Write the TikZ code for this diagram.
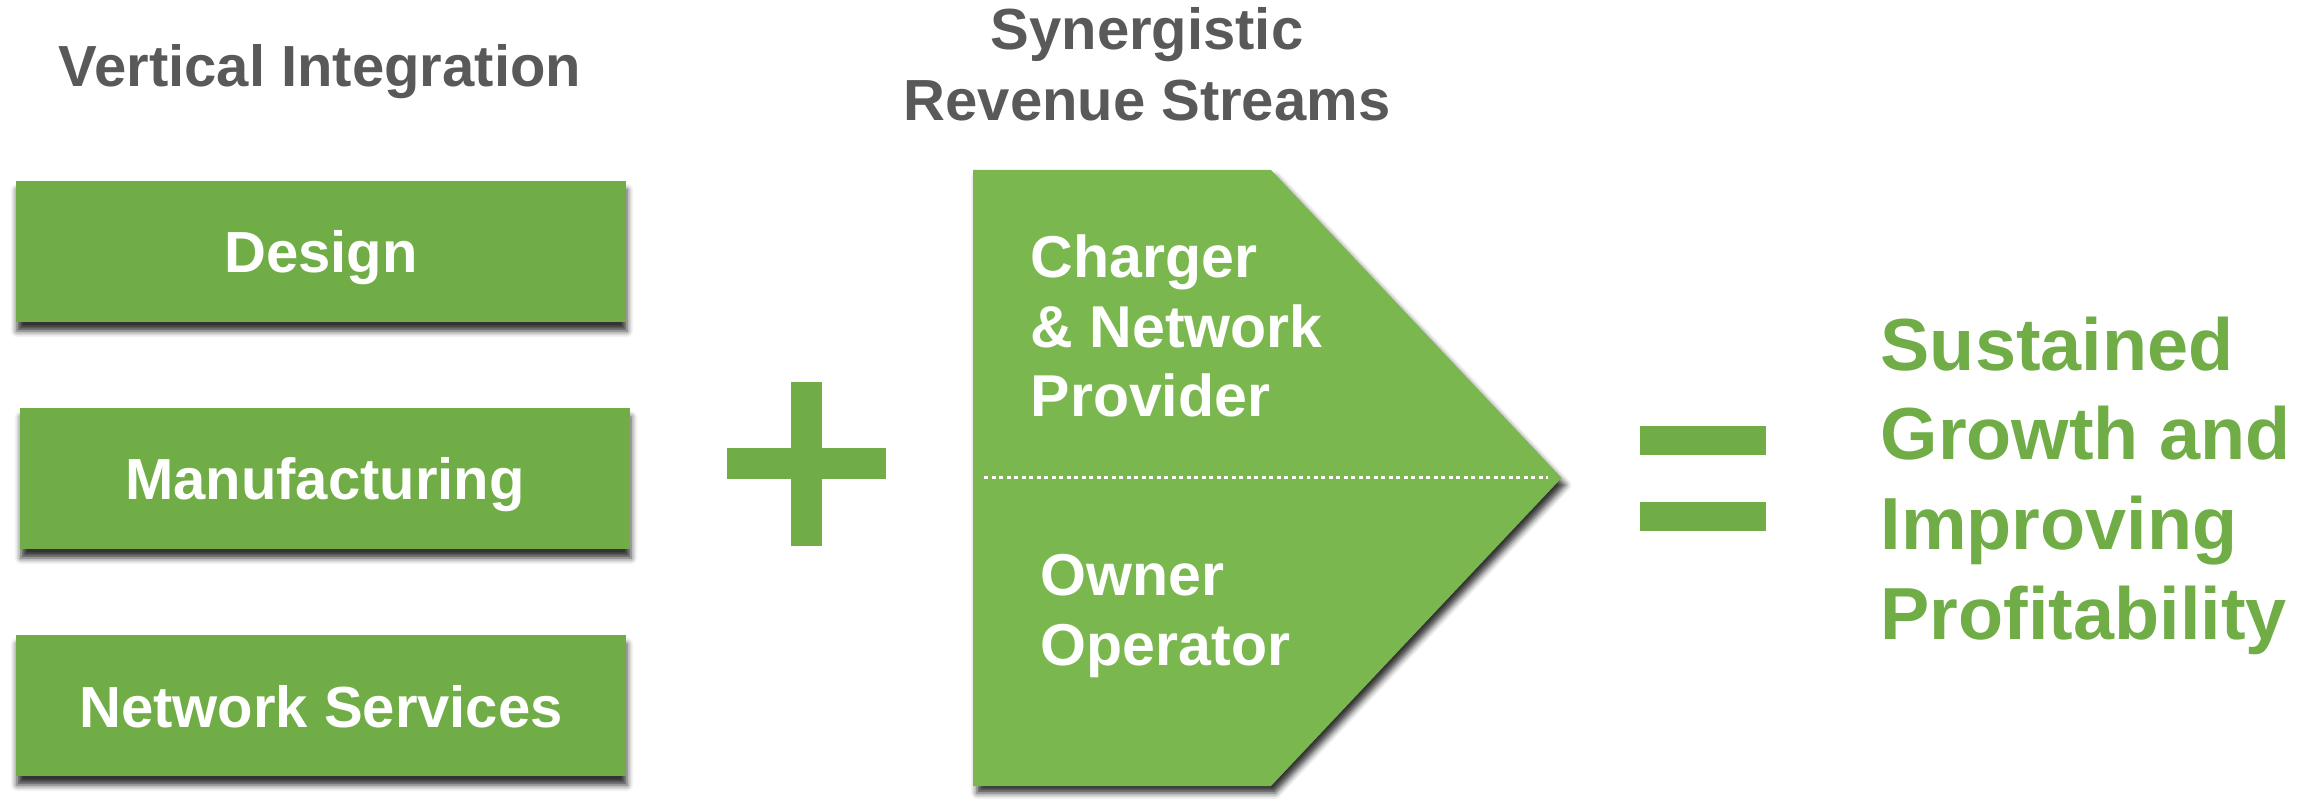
\documentclass[tikz,border=0pt]{standalone}
\usepackage{fontspec}
\setmainfont{Liberation Sans}
\usepackage{xcolor}
\usepackage{tikz}
\usetikzlibrary{shadows.blur}
\definecolor{boxgreen}{HTML}{70AD47}
\definecolor{arrowgreen}{HTML}{7AB84F}
\definecolor{titlegray}{HTML}{595959}
\tikzset{
greenboxv1/.style={rectangle, draw=none, fill=boxgreen, inner sep=0pt, minimum width= 6.1cm, minimum height = 1.41cm, text height=0.43cm, text depth=0pt, text=white, font=\bfseries\fontsize{16.5}{20}\selectfont, blur shadow={shadow xshift=0.01cm, shadow yshift=-0.09cm, shadow blur radius=0.06cm, shadow opacity=80}},
titletextv1/.style={align=center, inner sep=0pt, text=titlegray, font=\bfseries\fontsize{16.5}{20.2}\selectfont},
arrowtextv1/.style={align=left, inner sep=0pt, text=white, font=\bfseries\fontsize{16.8}{19.9}\selectfont},
resulttextv1/.style={align=left, inner sep=0pt, text=boxgreen, font=\bfseries\fontsize{21}{25.5}\selectfont},
signbar/.style={fill=boxgreen, draw=none},
}

\begin{document}
\begin{tikzpicture}
\useasboundingbox (0,0) rectangle (23.21,-8.03);

\node[titletextv1, anchor=base] at (3.20,-0.87) (vertical) {Vertical Integration};
\node[titletextv1, anchor=base] at (11.47,-1.21) (streams) {Synergistic\\Revenue Streams};

\node[greenboxv1] at (3.21,-2.515) (design) {Design};
\node[greenboxv1] at (3.25,-4.785) (manufacturing) {Manufacturing};
\node[greenboxv1] at (3.21,-7.055) (services) {Network Services};

% plus
\fill[signbar] (7.27,-4.48) rectangle (8.86,-4.79);
\fill[signbar] (7.91,-3.82) rectangle (8.22,-5.46);

% revenue chevron
\coordinate (c1) at (9.73,-1.70);
\coordinate (c2) at (12.71,-1.70);
\coordinate (tip) at (15.615,-4.78);
\coordinate (c3) at (12.71,-7.86);
\coordinate (c4) at (9.73,-7.86);
\fill[arrowgreen, blur shadow={shadow xshift=0.04cm, shadow yshift=-0.07cm, shadow blur radius=0.06cm, shadow opacity=80}] (c1) -- (c2) -- (tip) -- (c3) -- (c4) -- cycle;
\coordinate (dotl) at (9.84,-4.78);
\coordinate (dotr) at (15.48,-4.78);
\draw[white, line width=0.03cm, dash pattern=on 0.04cm off 0.035cm] (dotl) -- (dotr);

\node[arrowtextv1, anchor=base west] at (10.30,-4.17) (charger) {Charger\\\& Network\\Provider};
\node[arrowtextv1, anchor=base west] at (10.40,-6.65) (owner) {Owner\\Operator};

% equals
\fill[signbar] (16.40,-4.26) rectangle (17.66,-4.55);
\fill[signbar] (16.40,-5.02) rectangle (17.66,-5.31);

\node[resulttextv1, anchor=base west] at (18.80,-6.39) (growth) {Sustained\\Growth and\\Improving\\Profitability};
\end{tikzpicture}
\end{document}
